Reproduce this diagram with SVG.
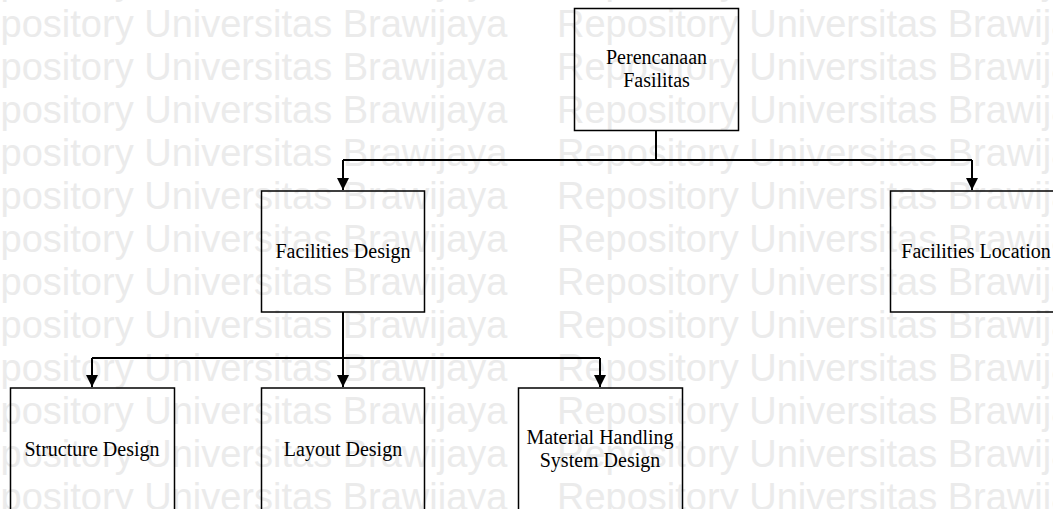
<svg xmlns="http://www.w3.org/2000/svg" width="1053" height="509" viewBox="0 0 1053 509">
  <style>
    .wm { font-family: "Liberation Sans", Arial, sans-serif; font-size: 38px; fill: #ebebeb; }
    .box { fill: none; stroke: #000; stroke-width: 1.5; }
    .lbl { font-family: "Liberation Serif", "Times New Roman", serif; font-size: 20px; fill: #000; text-anchor: middle; }
    .conn { fill: none; stroke: #000; stroke-width: 2; }
  </style>
  <defs>
    <marker id="arr" viewBox="0 0 10 10" refX="10" refY="5" markerWidth="6" markerHeight="6" markerUnits="strokeWidth" orient="auto">
      <path d="M0,0 L10,5 L0,10 Z" fill="#000"/>
    </marker>
  </defs>
  <rect x="0" y="0" width="1053" height="509" fill="#fff"/>
  <g id="watermark">
    <text class="wm" x="-48" y="-6">Repository Universitas Brawijaya</text>
    <text class="wm" x="557" y="-6">Repository Universitas Brawijaya</text>
    <text class="wm" x="-48" y="37">Repository Universitas Brawijaya</text>
    <text class="wm" x="557" y="37">Repository Universitas Brawijaya</text>
    <text class="wm" x="-48" y="80">Repository Universitas Brawijaya</text>
    <text class="wm" x="557" y="80">Repository Universitas Brawijaya</text>
    <text class="wm" x="-48" y="123">Repository Universitas Brawijaya</text>
    <text class="wm" x="557" y="123">Repository Universitas Brawijaya</text>
    <text class="wm" x="-48" y="166">Repository Universitas Brawijaya</text>
    <text class="wm" x="557" y="166">Repository Universitas Brawijaya</text>
    <text class="wm" x="-48" y="209">Repository Universitas Brawijaya</text>
    <text class="wm" x="557" y="209">Repository Universitas Brawijaya</text>
    <text class="wm" x="-48" y="252">Repository Universitas Brawijaya</text>
    <text class="wm" x="557" y="252">Repository Universitas Brawijaya</text>
    <text class="wm" x="-48" y="295">Repository Universitas Brawijaya</text>
    <text class="wm" x="557" y="295">Repository Universitas Brawijaya</text>
    <text class="wm" x="-48" y="338">Repository Universitas Brawijaya</text>
    <text class="wm" x="557" y="338">Repository Universitas Brawijaya</text>
    <text class="wm" x="-48" y="381">Repository Universitas Brawijaya</text>
    <text class="wm" x="557" y="381">Repository Universitas Brawijaya</text>
    <text class="wm" x="-48" y="424">Repository Universitas Brawijaya</text>
    <text class="wm" x="557" y="424">Repository Universitas Brawijaya</text>
    <text class="wm" x="-48" y="467">Repository Universitas Brawijaya</text>
    <text class="wm" x="557" y="467">Repository Universitas Brawijaya</text>
    <text class="wm" x="-48" y="510">Repository Universitas Brawijaya</text>
    <text class="wm" x="557" y="510">Repository Universitas Brawijaya</text>
  </g>
  <g id="connectors">
    <polyline class="conn" points="656,130 656,160"/>
    <polyline class="conn" points="343,160 972,160"/>
    <line class="conn" x1="343" y1="160" x2="343" y2="190" marker-end="url(#arr)"/>
    <line class="conn" x1="972" y1="160" x2="972" y2="190" marker-end="url(#arr)"/>
    <polyline class="conn" points="343,312 343,358"/>
    <polyline class="conn" points="92,358 600,358"/>
    <line class="conn" x1="92" y1="358" x2="92" y2="387" marker-end="url(#arr)"/>
    <line class="conn" x1="343" y1="358" x2="343" y2="387" marker-end="url(#arr)"/>
    <line class="conn" x1="600" y1="358" x2="600" y2="387" marker-end="url(#arr)"/>
  </g>
  <g id="node-perencanaan">
    <rect class="box" x="574.5" y="8.5" width="164" height="122"/>
    <text class="lbl" x="656.5" y="64">Perencanaan</text>
    <text class="lbl" x="656.5" y="87">Fasilitas</text>
  </g>
  <g id="node-facilities-design">
    <rect class="box" x="261.5" y="191" width="163" height="121"/>
    <text class="lbl" x="343" y="258">Facilities Design</text>
  </g>
  <g id="node-facilities-location">
    <rect class="box" x="890.5" y="191" width="164" height="121"/>
    <text class="lbl" x="976" y="258">Facilities Location</text>
  </g>
  <g id="node-structure-design">
    <rect class="box" x="10.5" y="388" width="164" height="122"/>
    <text class="lbl" x="92" y="456">Structure Design</text>
  </g>
  <g id="node-layout-design">
    <rect class="box" x="261.5" y="388" width="163" height="122"/>
    <text class="lbl" x="343" y="456">Layout Design</text>
  </g>
  <g id="node-material-handling">
    <rect class="box" x="518.5" y="388" width="164" height="122"/>
    <text class="lbl" x="600" y="444">Material Handling</text>
    <text class="lbl" x="600" y="467">System Design</text>
  </g>
</svg>
